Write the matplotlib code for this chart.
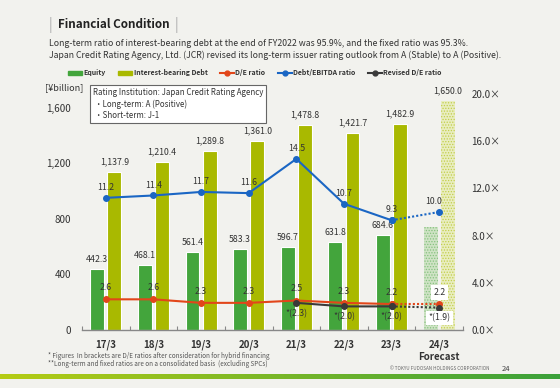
import numpy as np
import matplotlib.pyplot as plt
from matplotlib.lines import Line2D
from matplotlib.patches import Patch

plt.rcParams['font.family'] = ['Noto Sans CJK JP', 'DejaVu Sans']

# ---- data ----
years = ["17/3", "18/3", "19/3", "20/3", "21/3", "22/3", "23/3", "24/3"]
equity = [442.3, 468.1, 561.4, 583.3, 596.7, 631.8, 684.6, 745.0]
debt = [1137.9, 1210.4, 1289.8, 1361.0, 1478.8, 1421.7, 1482.9, 1650.0]
de_ratio = [2.6, 2.6, 2.3, 2.3, 2.5, 2.3, 2.2, 2.2]
ebitda_ratio = [11.2, 11.4, 11.7, 11.6, 14.5, 10.7, 9.3, 10.0]
revised_years = ["21/3", "22/3", "23/3", "24/3"]
revised_de = [2.3, 2.0, 2.0, 1.9]
left_ticks = [0, 400, 800, 1200, 1600]
right_ticks = [0, 4, 8, 12, 16, 20]

C_EQ = "#43a53c"
C_DEBT = "#a9b900"
C_DE = "#e2461a"
C_EB = "#1a66c4"
C_REV = "#3a3a3a"
C_TXT = "#333333"
BG = "#f2f2ee"

fig = plt.figure(figsize=(5.6, 3.88), dpi=100, facecolor=BG)
ax = fig.add_axes([82/560, 58/388, 381/560, 236/388])
ax.set_facecolor(BG)
ax2 = ax.twinx()

x = np.arange(len(years))
n = len(years) - 1
w = 0.29
off = 0.18

# actual bars
ax.bar(x[:n] - off, equity[:n], w, color=C_EQ, edgecolor="white", linewidth=0.8, zorder=2)
ax.bar(x[:n] + off, debt[:n], w, color=C_DEBT, edgecolor="white", linewidth=0.8, zorder=2)
# forecast bars
plt.rcParams['hatch.linewidth'] = 0.6
ax.bar(x[n] - off, equity[n], w, color="#cfe3c5", edgecolor="#86c27f", linewidth=0, hatch="......", zorder=2)
ax.bar(x[n] + off, debt[n], w, color="#e9edc0", edgecolor="#c2cf4a", linewidth=0, hatch="......", zorder=2)

for i in range(n):
    ax.text(x[i] - off, equity[i] + 35, f"{equity[i]:,.1f}", ha="center", va="bottom",
            fontsize=6.3, color=C_TXT)
for i in range(len(years)):
    ax.text(x[i] + off, debt[i] + 40, f"{debt[i]:,.1f}", ha="center", va="bottom",
            fontsize=6.3, color=C_TXT)

ax.set_xlim(-0.5, 7.5)
ax.set_ylim(0, 1700)
ax.set_yticks(left_ticks)
ax.set_yticklabels([f"{v:,}" for v in left_ticks], fontsize=7, color=C_TXT)
ax.tick_params(axis="y", length=0, pad=8)
ax.set_xticks(np.arange(-0.5, 8, 1.0))
ax.set_xticklabels([])
ax.tick_params(axis="x", direction="in", length=3, color="#888888")
for s in ["top", "left", "right"]:
    ax.spines[s].set_visible(False)
    ax2.spines[s].set_visible(False)
ax2.spines["bottom"].set_visible(False)
ax.spines["bottom"].set_color("#888888")
ax.spines["bottom"].set_linewidth(1.0)

for i, lab in enumerate(years):
    ax.text(x[i], -0.04, lab, transform=ax.get_xaxis_transform(), ha="center", va="top",
            fontsize=7, color=C_TXT, fontweight="bold")
ax.text(x[n], -0.095, "Forecast", transform=ax.get_xaxis_transform(), ha="center", va="top",
        fontsize=7, color=C_TXT, fontweight="bold")

# ratio lines
ax2.set_ylim(0, 20)
ax2.set_yticks(right_ticks)
ax2.set_yticklabels([f"{v:.1f}×" for v in right_ticks], fontsize=7, color=C_TXT)
ax2.tick_params(axis="y", length=0, pad=6)

mk = dict(marker="o", markersize=4)
ax2.plot(x[:n], ebitda_ratio[:n], color=C_EB, lw=1.5, zorder=5, **mk)
ax2.plot(x[n-1:], ebitda_ratio[n-1:], color=C_EB, lw=1.5, ls=(0, (1, 1)), zorder=5, **mk)
ax2.plot(x[:n], de_ratio[:n], color=C_DE, lw=1.5, zorder=5, **mk)
ax2.plot(x[n-1:], de_ratio[n-1:], color=C_DE, lw=1.5, ls=(0, (1, 1)), zorder=5, **mk)
rx = x[4:]
ax2.plot(rx[:-1], revised_de[:-1], color=C_REV, lw=1.5, zorder=6, **mk)
ax2.plot(rx[-2:], revised_de[-2:], color=C_REV, lw=1.5, ls=(0, (1, 1)), zorder=6, **mk)

for i in range(len(years)):
    dx = -0.12 if i == n else 0
    ax2.text(x[i] + dx, ebitda_ratio[i] + 0.5, f"{ebitda_ratio[i]:.1f}", ha="center", va="bottom",
             fontsize=6.3, color=C_TXT, zorder=7)
for i in range(n):
    ax2.text(x[i], de_ratio[i] + 0.6, f"{de_ratio[i]:.1f}", ha="center", va="bottom",
             fontsize=6.3, color=C_TXT, zorder=7)
ax2.text(x[n], de_ratio[n] + 0.6, f"{de_ratio[n]:.1f}", ha="center", va="bottom",
         fontsize=6.3, color=C_TXT, zorder=7,
         bbox=dict(boxstyle="square,pad=0.3", fc="white", ec="none"))
for i, v in enumerate(revised_de):
    box = dict(boxstyle="square,pad=0.3", fc="white", ec="none") if i == len(revised_de) - 1 else None
    ax2.text(rx[i], v - 0.5, f"*({v:.1f})", ha="center", va="top",
             fontsize=6.3, color=C_TXT, zorder=7, bbox=box)

# header
fig.text(58/560, 1 - 25/388, "Financial Condition", fontsize=8.4, fontweight="bold",
         color="#222222", va="center", ha="left")
fig.text(50/560, 1 - 25/388, "|", fontsize=10, color="#aaaaaa", va="center", ha="center")
fig.text(176/560, 1 - 25/388, "|", fontsize=10, color="#aaaaaa", va="center", ha="center")
fig.text(49/560, 1 - 43/388,
         "Long-term ratio of interest-bearing debt at the end of FY2022 was 95.9%, and the fixed ratio was 95.3%.",
         fontsize=6.3, color=C_TXT, va="center", ha="left")
fig.text(49/560, 1 - 55/388,
         "Japan Credit Rating Agency, Ltd. (JCR) revised its long-term issuer rating outlook from A (Stable) to A (Positive).",
         fontsize=6.3, color=C_TXT, va="center", ha="left")

# legend
handles = [
    Patch(color=C_EQ, label="Equity"),
    Patch(color=C_DEBT, label="Interest-bearing Debt"),
    Line2D([], [], color=C_DE, marker="o", markersize=3.5, lw=1.5, label="D/E ratio"),
    Line2D([], [], color=C_EB, marker="o", markersize=3.5, lw=1.5, label="Debt/EBITDA ratio"),
    Line2D([], [], color=C_REV, marker="o", markersize=3.5, lw=1.5, label="Revised D/E ratio"),
]
leg = fig.legend(handles=handles, loc="center", bbox_to_anchor=(255/560, 1 - 73/388), ncol=5,
                 frameon=False, fontsize=5.0, handlelength=2.0, handleheight=0.6,
                 handletextpad=0.2, columnspacing=1.8)
for t in leg.get_texts():
    t.set_color(C_TXT)
    t.set_fontweight("bold")

fig.text(45/560, 1 - 88/388, "[¥billion]", fontsize=6.5, color=C_TXT, va="center", ha="left")
fig.text(93/560, 1 - 104/388,
         "Rating Institution: Japan Credit Rating Agency\n ・Long-term: A (Positive)\n ・Short-term: J-1",
         fontsize=5.7, color=C_TXT, va="center", ha="left", linespacing=1.35,
         bbox=dict(boxstyle="square,pad=0.35", fc="white", ec="#666666", lw=0.8))

# footnotes
fig.text(48/560, 1 - 356/388,
         "* Figures  In brackets are D/E ratios after consideration for hybrid financing",
         fontsize=4.6, color="#555555", va="center", ha="left")
fig.text(48/560, 1 - 364/388,
         "**Long-term and fixed ratios are on a consolidated basis  (excluding SPCs)",
         fontsize=4.6, color="#555555", va="center", ha="left")
fig.text(490/560, 1 - 369/388, "© TOKYU FUDOSAN HOLDINGS CORPORATION", fontsize=3.3,
         color="#666666", va="center", ha="right")
fig.text(506/560, 1 - 369/388, "24", fontsize=5.5, color="#444444", va="center", ha="center")

# bottom gradient band
gax = fig.add_axes([0, 1 - 379/388, 1, 5/388])
grad = np.linspace(0, 1, 256)
c1 = np.array([0.71, 0.80, 0.08])
c2 = np.array([0.23, 0.63, 0.23])
img = (c1[None, :] * (1 - grad[:, None]) + c2[None, :] * grad[:, None])[None, :, :]
gax.imshow(img, aspect="auto", extent=[0, 1, 0, 1])
gax.axis("off")

fig.savefig("out.png", dpi=100, facecolor=BG)
